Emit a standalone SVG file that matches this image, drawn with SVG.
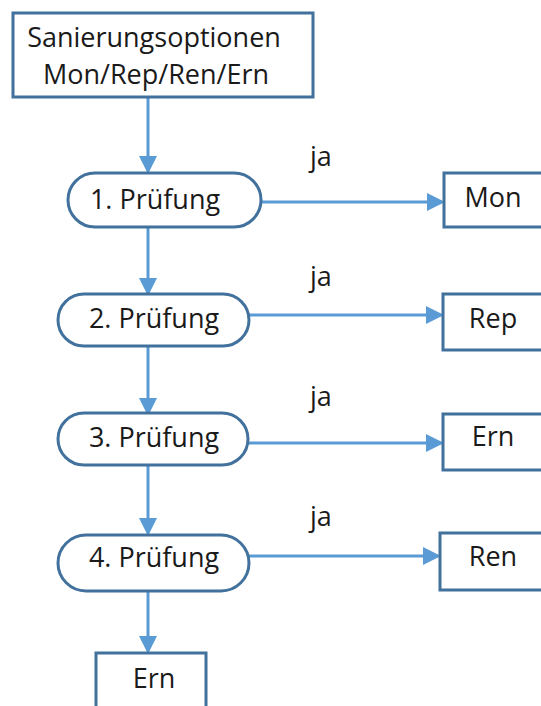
<svg xmlns="http://www.w3.org/2000/svg" width="541" height="706" viewBox="0 0 541 706">
<style>
.box{fill:#fff;stroke:#41719C;stroke-width:3}
.t{font-family:"Open Sans","Liberation Sans",sans-serif;font-size:27px;fill:#1a1a1a}
.c{stroke:#5B9BD5;stroke-width:3;fill:none}
</style>
<defs>
<marker id="ah" markerWidth="6" markerHeight="6" refX="5" refY="3" orient="auto" markerUnits="strokeWidth">
<path d="M0,0 L6,3 L0,6 z" fill="#5B9BD5"/>
</marker>
</defs>
<rect width="541" height="706" fill="#fff"/>
<g id="connectors">
<line class="c" x1="148" y1="97" x2="148" y2="171" marker-end="url(#ah)"/>
<line class="c" x1="148" y1="227" x2="148" y2="293" marker-end="url(#ah)"/>
<line class="c" x1="148" y1="346" x2="148" y2="413" marker-end="url(#ah)"/>
<line class="c" x1="148" y1="465" x2="148" y2="533" marker-end="url(#ah)"/>
<line class="c" x1="148" y1="591" x2="148" y2="651" marker-end="url(#ah)"/>
<line class="c" x1="261" y1="202" x2="442" y2="202" marker-end="url(#ah)"/>
<line class="c" x1="249" y1="315" x2="441" y2="315" marker-end="url(#ah)"/>
<line class="c" x1="248" y1="443" x2="441" y2="443" marker-end="url(#ah)"/>
<line class="c" x1="249" y1="556" x2="438" y2="556" marker-end="url(#ah)"/>
<text class="t" x="310" y="166">ja</text>
<text class="t" x="310" y="286">ja</text>
<text class="t" x="310" y="406">ja</text>
<text class="t" x="310" y="526">ja</text>
</g>
<g id="start">
<rect class="box" x="13" y="13" width="300" height="84"/>
<text class="t" x="154" y="47" text-anchor="middle">Sanierungsoptionen</text>
<text class="t" x="156" y="84" text-anchor="middle">Mon/Rep/Ren/Ern</text>
</g>
<g id="p1">
<rect class="box" x="68" y="173" width="193" height="54" rx="27"/>
<text class="t" x="155" y="209" text-anchor="middle">1. Prüfung</text>
</g>
<g id="p2">
<rect class="box" x="58" y="294" width="191" height="52" rx="26"/>
<text class="t" x="154" y="328" text-anchor="middle">2. Prüfung</text>
</g>
<g id="p3">
<rect class="box" x="58" y="413" width="190" height="52" rx="26"/>
<text class="t" x="154" y="447" text-anchor="middle">3. Prüfung</text>
</g>
<g id="p4">
<rect class="box" x="58" y="535" width="191" height="56" rx="28"/>
<text class="t" x="154" y="567" text-anchor="middle">4. Prüfung</text>
</g>
<g id="mon">
<rect class="box" x="444" y="173" width="110" height="54"/>
<text class="t" x="493" y="207" text-anchor="middle">Mon</text>
</g>
<g id="rep">
<rect class="box" x="443" y="294" width="110" height="56"/>
<text class="t" x="493" y="328" text-anchor="middle">Rep</text>
</g>
<g id="ern1">
<rect class="box" x="443" y="414" width="110" height="56"/>
<text class="t" x="493" y="446" text-anchor="middle">Ern</text>
</g>
<g id="ren">
<rect class="box" x="440" y="533" width="110" height="57"/>
<text class="t" x="493" y="566" text-anchor="middle">Ren</text>
</g>
<g id="ern2">
<rect class="box" x="96" y="653" width="110" height="60"/>
<text class="t" x="154" y="688" text-anchor="middle">Ern</text>
</g>
</svg>
